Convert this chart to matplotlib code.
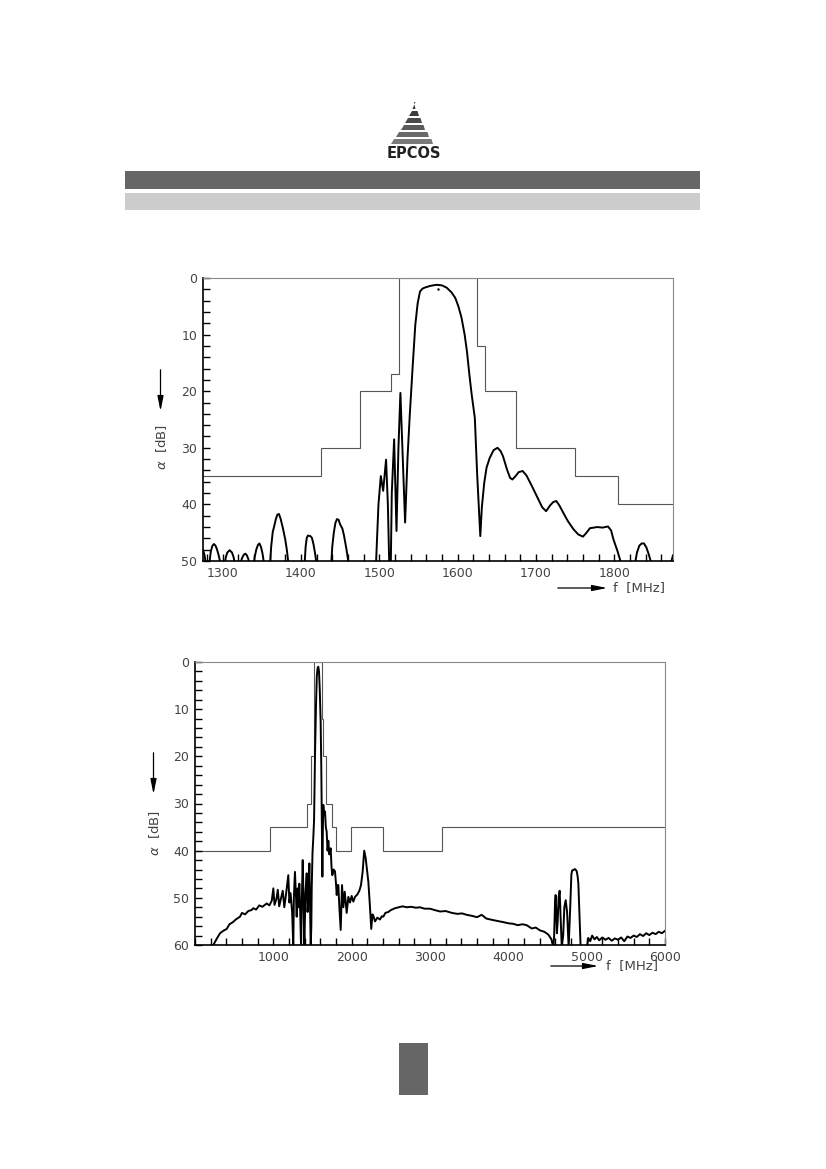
import numpy as np
import matplotlib
matplotlib.use("Agg")
import matplotlib.pyplot as plt
from matplotlib.patches import Rectangle, Polygon
from matplotlib.ticker import MultipleLocator

# limit mask (same for both plots), dB attenuation per band
mask_edges = [0, 960, 1425, 1475, 1515, 1525, 1625, 1635, 1675, 1750, 1805, 1990, 2400, 3150, 6000]
mask_levels = [40, 35, 30, 20, 17, 0, 12, 20, 30, 35, 40, 35, 40, 35]

# narrow band response (values > 50 fall outside the plot)
top_f = [1275, 1277, 1278.5, 1280,
         1282, 1283, 1285, 1287, 1289, 1291, 1293, 1295, 1297.5, 1299,
         1301, 1302.5, 1304, 1306, 1309, 1312, 1314, 1316.5, 1319,
         1321, 1322.5, 1324.5, 1327, 1329, 1331, 1333, 1334.5, 1337,
         1338, 1339.5, 1341, 1343, 1345, 1347, 1349, 1351, 1353.5, 1356,
         1359, 1360.5, 1362, 1364, 1366, 1368, 1370, 1372, 1374, 1377, 1380, 1382, 1384.5, 1390,
         1402, 1404.5, 1406, 1407.5, 1409, 1412, 1414, 1416, 1418, 1420.5, 1428,
         1436, 1438.5, 1440, 1442, 1444, 1446, 1448, 1450, 1453, 1455, 1458, 1461.5, 1470,
         1494, 1496, 1499, 1502, 1505, 1508.7, 1511, 1514, 1516, 1519, 1522, 1524.5,
         1527, 1530, 1533, 1536, 1539, 1542.5, 1546, 1549, 1552, 1555, 1558, 1565,
         1573, 1580, 1586, 1592, 1597, 1601, 1605, 1609, 1612, 1615, 1618, 1622,
         1625, 1629, 1631, 1634, 1637, 1641, 1646, 1651, 1655, 1658, 1663, 1667,
         1670, 1674, 1678, 1683, 1688, 1695, 1702, 1708, 1713, 1718, 1722, 1726,
         1730, 1735, 1741, 1748, 1754, 1760, 1764, 1769, 1774, 1778, 1785, 1792,
         1796, 1799, 1804, 1809, 1818,
         1826.5, 1829, 1832, 1835, 1838, 1841, 1844, 1847.5, 1860, 1872, 1875]
top_db = [48.0, 49.0, 50.5, 58,
          58, 50.5, 48.3, 47.3, 47.0, 47.3, 48.0, 49.0, 50.5, 58,
          58, 51.0, 49.4, 48.5, 48.1, 48.5, 49.3, 51.0, 58,
          58, 51.0, 49.6, 48.9, 48.7, 49.0, 49.7, 51.0, 58,
          58, 51.0, 49.3, 48.0, 47.2, 46.9, 47.5, 48.7, 51.0, 58,
          58, 51.0, 47.5, 44.9, 43.8, 42.6, 41.8, 41.7, 42.5, 44.2, 46.2, 48.0, 51.0, 58,
          58, 51.0, 47.5, 45.9, 45.5, 45.6, 45.9, 47.0, 48.6, 51.0, 58,
          58, 51.0, 47.5, 45.0, 43.3, 42.6, 42.7, 43.5, 44.3, 45.5, 47.8, 51.0, 58,
          58, 50.0, 40.0, 35.0, 37.6, 32.1, 40.0, 58, 38.0, 28.5, 44.7, 30.0,
          20.3, 32.0, 43.2, 32.0, 24.1, 16.0, 8.3, 4.5, 2.4, 1.9, 1.7, 1.4,
          1.2, 1.3, 1.7, 2.5, 3.5, 5.0, 7.0, 10.0, 13.0, 17.0, 20.6, 24.7,
          34.7, 45.6, 40.5, 36.2, 33.5, 31.8, 30.4, 30.0, 30.6, 31.5, 33.8, 35.3,
          35.6, 35.0, 34.3, 34.1, 34.9, 36.8, 38.8, 40.5, 41.2, 40.2, 39.6, 39.4,
          40.2, 41.5, 43.0, 44.4, 45.3, 45.7, 45.1, 44.2, 44.1, 44.0, 44.1, 43.9,
          44.6, 46.2, 48.2, 50.5, 58,
          50.5, 48.5, 47.3, 46.9, 46.9, 47.6, 48.8, 50.5, 58, 50.5, 49.0]

# wide band response 0 .. 6 GHz
bot_f = [200, 234, 280, 320, 360, 404, 440, 480, 520, 574, 600, 640, 680, 720, 745, 780,
         820, 860, 915, 950, 980, 1000, 1015, 1040, 1057, 1075, 1100, 1120, 1140, 1160,
         1191, 1205, 1220, 1240, 1255, 1262, 1276, 1290, 1298, 1310, 1320, 1332, 1343,
         1354, 1364, 1375, 1385, 1396, 1410, 1426, 1437, 1447, 1460, 1469, 1477, 1485,
         1490, 1500, 1511, 1520, 1532, 1545, 1555, 1565, 1574, 1583, 1593, 1604, 1612,
         1619, 1626, 1632, 1638, 1648, 1660, 1670, 1681, 1692, 1702, 1715, 1732, 1743,
         1753, 1770, 1787, 1800, 1809, 1820, 1830, 1843, 1860, 1877, 1894, 1911, 1925,
         1936, 1958, 1979, 2000, 2021, 2043, 2072, 2098, 2119, 2140, 2160, 2179, 2195,
         2213, 2234, 2250, 2265, 2277, 2298, 2328, 2362, 2385, 2404, 2430, 2468, 2500,
         2553, 2600, 2650, 2702, 2760, 2820, 2872, 2930, 3000, 3060, 3130, 3200, 3280,
         3350, 3410, 3468, 3530, 3600, 3660, 3720, 3800, 3894, 3950, 4000, 4060, 4120,
         4180, 4234, 4300, 4350, 4404, 4460, 4511, 4550, 4574, 4585, 4596, 4604, 4612,
         4620, 4630, 4642, 4655, 4668, 4682, 4700, 4715, 4732, 4750, 4770, 4790, 4805,
         4815, 4830, 4850, 4872, 4885, 4894, 4905, 4923, 5000, 5008, 5020, 5045, 5070,
         5100, 5130, 5160, 5200, 5240, 5280, 5320, 5360, 5400, 5440, 5480, 5520, 5560,
         5600, 5640, 5680, 5720, 5760, 5800, 5840, 5880, 5920, 5960, 6000]
bot_db = [62, 60.0, 58.6, 57.5, 57.0, 56.6, 55.6, 55.2, 54.6, 54.0, 53.2, 53.5, 52.8, 52.6, 52.2, 52.5,
          51.6, 51.9, 51.2, 51.6, 50.6, 48.0, 51.5, 50.2, 48.3, 51.8, 50.0, 48.5, 52.0, 49.5,
          45.2, 51.0, 49.0, 53.0, 60.5, 50.0, 44.5, 50.0, 54.0, 48.0, 52.0, 47.0, 53.0,
          60.5, 50.0, 42.0, 50.0, 60.5, 49.0, 44.8, 53.0, 50.5, 42.7, 52.0, 60.5, 56.0,
          48.0, 40.5, 37.0, 33.5, 19.7, 9.0, 3.0, 1.3, 1.0, 2.0, 6.0, 12.7, 22.0,
          35.0, 45.5, 36.0, 30.3, 32.5, 31.7, 35.0, 36.0, 40.0, 37.9, 40.8, 39.5, 43.5,
          45.2, 44.0, 44.4, 47.0, 49.4, 47.3, 47.3, 52.0, 56.8, 47.3, 52.0, 48.7, 51.0,
          53.2, 49.8, 51.0, 49.6, 50.8, 49.8, 49.3, 48.5, 47.3, 44.5, 40.0, 41.6, 44.0,
          46.6, 52.0, 56.6, 53.5, 53.8, 55.0, 54.2, 54.6, 53.9, 54.0, 53.2, 53.0, 52.6,
          52.2, 52.0, 51.8, 52.0, 51.9, 52.1, 52.0, 52.3, 52.3, 52.6, 52.9, 52.8, 53.2,
          53.4, 53.3, 53.6, 53.8, 54.1, 53.6, 54.4, 54.7, 55.0, 55.2, 55.4, 55.5, 55.8,
          55.6, 55.8, 56.5, 56.3, 56.9, 57.2, 57.8, 58.8, 60.5, 58.0, 51.0, 49.4, 53.0,
          57.5, 55.0, 50.0, 48.5, 54.0, 60.5, 58.0, 52.0, 50.5, 53.0, 60.5, 52.0, 45.0,
          44.2, 44.1, 43.9, 44.3, 45.5, 47.0, 52.0, 60.5, 62, 60.0, 58.5, 59.2, 58.0,
          58.8, 58.3, 59.0, 58.4, 58.9, 58.5, 59.1, 58.6, 58.9, 58.4, 59.2, 58.2, 58.5,
          58.0, 58.3, 57.7, 58.1, 57.5, 57.9, 57.4, 57.7, 57.2, 57.5, 57.0]

top_xticks = [1300, 1400, 1500, 1600, 1700, 1800]
bot_xticks = [1000, 2000, 3000, 4000, 5000, 6000]

W, H = 826, 1169
fig = plt.figure(figsize=(W / 100, H / 100), dpi=100)

# page decoration in pixel coordinates
deco = fig.add_axes([0, 0, 1, 1])
deco.set_xlim(0, W)
deco.set_ylim(H, 0)
deco.axis('off')
deco.add_patch(Rectangle((125, 171), 575, 18, color='#666666', lw=0))
deco.add_patch(Rectangle((125, 193), 575, 17, color='#cccccc', lw=0))
deco.add_patch(Rectangle((399, 1043), 29, 52, color='#666666', lw=0))

# EPCOS logo (stacked stripes)
stripes = [(412.5, 415.5, 102, 109, '#333333'),
           (409, 419, 111, 116, '#3c3c3c'),
           (405, 422, 118, 123, '#4a4a4a'),
           (401, 425, 125, 130, '#5a5a5a'),
           (396, 429, 132, 137, '#6a6a6a'),
           (391, 433, 139, 144, '#7a7a7a')]
for xl, xr, yt, yb, c in stripes:
    deco.add_patch(Polygon([(xl, yb), (xr, yb), (xr - 1.5, yt), (xl + 3, yt)],
                           closed=True, color=c, lw=0))
deco.text(414, 154, 'EPCOS', ha='center', va='center', fontsize=10.5,
          fontweight='bold', color='#222222')

font_c = '#444444'


def setup_axes(ax, xlim, ylim, xticks, xminor, yminor):
    ax.set_xlim(*xlim)
    ax.set_ylim(ylim, 0)
    ax.set_xticks(xticks)
    ax.xaxis.set_minor_locator(MultipleLocator(xminor))
    ax.yaxis.set_major_locator(MultipleLocator(10))
    ax.yaxis.set_minor_locator(MultipleLocator(yminor))
    for s in ['top', 'right']:
        ax.spines[s].set_color('#888888')
        ax.spines[s].set_linewidth(0.8)
    for s in ['left', 'bottom']:
        ax.spines[s].set_color('black')
        ax.spines[s].set_linewidth(1.2)
    ax.tick_params(which='both', direction='in', length=5, width=1.0,
                   labelsize=9, labelcolor=font_c, top=False, right=False)
    ax.tick_params(axis='x', pad=4)
    ax.tick_params(axis='y', pad=4)


# narrow band plot
ax1 = fig.add_axes([203 / W, 1 - 561 / H, 470 / W, 283 / H])
ax1.stairs(mask_levels, mask_edges, baseline=None, color='#555555', lw=0.8)
ax1.plot(top_f, top_db, color='black', lw=1.4)
ax1.plot([1575], [1.9], 'k.', ms=1.5)
setup_axes(ax1, (1275, 1875), 50, top_xticks, 20, 2)

# wide band plot
ax2 = fig.add_axes([195 / W, 1 - 945 / H, 470 / W, 283 / H])
ax2.stairs(mask_levels, mask_edges, baseline=None, color='#555555', lw=0.8)
ax2.plot(bot_f, bot_db, color='black', lw=1.4)
setup_axes(ax2, (0, 6000), 60, bot_xticks, 200, 2)

# axis captions with arrows
arrow_kw = dict(arrowstyle='-|>,head_length=0.9,head_width=0.18', color='black', lw=0.9)
for x, y0, y1, ylab in [(160.5, 367, 414, 447), (153.5, 750, 797, 833)]:
    deco.annotate('', xy=(x, y1), xytext=(x, y0), arrowprops=arrow_kw)
    deco.text(x + 1.5, ylab, r'$\alpha$  [dB]', rotation=90, ha='center', va='center',
              fontsize=9.5, color=font_c)
for x0, x1, y, xlab in [(555, 610, 588, 613), (548, 601, 966, 606)]:
    deco.annotate('', xy=(x1, y), xytext=(x0, y), arrowprops=arrow_kw)
    deco.text(xlab, y, 'f  [MHz]', ha='left', va='center', fontsize=9.5, color=font_c)

fig.savefig('out.png', dpi=100)
